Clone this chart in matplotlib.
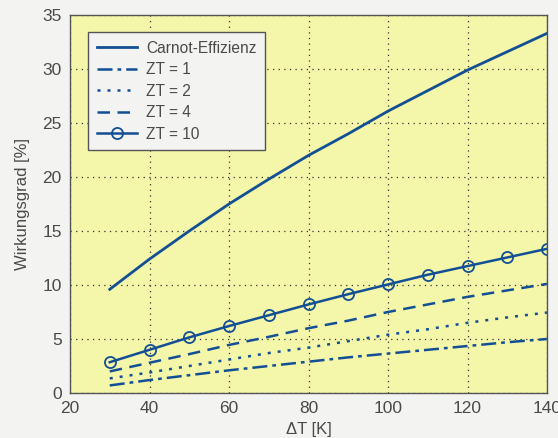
import matplotlib
matplotlib.use("Agg")
import matplotlib.pyplot as plt

plt.rcParams['font.family'] = ['Liberation Sans', 'DejaVu Sans']

dT = [30, 40, 50, 60, 70, 80, 90, 100, 110, 120, 130, 140]
carnot = [9.6, 12.4, 15.0, 17.5, 19.8, 22.0, 24.0, 26.1, 28.0, 29.9, 31.6, 33.3]
zt1 = [0.7, 1.2, 1.65, 2.1, 2.5, 2.9, 3.3, 3.65, 4.0, 4.35, 4.7, 5.0]
zt2 = [1.35, 1.9, 2.5, 3.1, 3.7, 4.2, 4.8, 5.4, 5.9, 6.5, 7.0, 7.45]
zt4 = [2.0, 2.8, 3.6, 4.45, 5.2, 6.0, 6.7, 7.5, 8.2, 8.9, 9.5, 10.1]
zt10 = [2.85, 4.0, 5.15, 6.2, 7.2, 8.2, 9.15, 10.05, 10.95, 11.75, 12.55, 13.35]
labels = ['Carnot-Effizienz', 'ZT = 1', 'ZT = 2', 'ZT = 4', 'ZT = 10']
xticks = [20, 40, 60, 80, 100, 120, 140]
yticks = [0, 5, 10, 15, 20, 25, 30, 35]

col = '#134f94'
txt = '#4a4a4a'

fig = plt.figure(figsize=(5.58, 4.38), dpi=100, facecolor='#f3f3f1')
ax = fig.add_axes([70/558, 1 - 393/438, 477/558, 378/438])
ax.set_facecolor('#f4f6a9')

ax.plot(dT, carnot, color=col, lw=2.0, label=labels[0])
ax.plot(dT, zt1, color=col, lw=1.8, linestyle=(0, (6, 2, 1.5, 2)), label=labels[1])
ax.plot(dT, zt2, color=col, lw=1.8, linestyle=(0, (1.2, 2.8)), label=labels[2])
ax.plot(dT, zt4, color=col, lw=1.8, linestyle=(0, (5, 3)), label=labels[3])
ax.plot(dT, zt10, color=col, lw=1.8, marker='o', markersize=8, markerfacecolor='none',
        markeredgecolor=col, markeredgewidth=1.3, label=labels[4])

ax.set_xlim(20, 140)
ax.set_ylim(0, 35)
ax.set_xticks(xticks)
ax.set_yticks(yticks)
ax.grid(True, color='#333333', linestyle=(0, (1, 3.5)), linewidth=0.9)
ax.tick_params(axis='both', direction='in', length=0, labelsize=12.5, colors=txt, pad=6)
for s in ax.spines.values():
    s.set_color('#555555')
    s.set_linewidth(1.0)

ax.set_xlabel('ΔT [K]', fontsize=12, color=txt, labelpad=4)
ax.set_ylabel('Wirkungsgrad [%]', fontsize=12, color=txt, labelpad=9)

leg = ax.legend(loc='upper left', bbox_to_anchor=(18/477, 1 - 17/378), borderaxespad=0,
                fontsize=11.2, frameon=True, fancybox=False, handlelength=2.6,
                borderpad=0.55, labelspacing=0.42, handletextpad=0.6)
leg.get_frame().set_facecolor('#f3f3f1')
leg.get_frame().set_edgecolor('#555555')
leg.get_frame().set_alpha(1)
for t in leg.get_texts():
    t.set_color(txt)

fig.savefig('out.png', dpi=100, facecolor=fig.get_facecolor())
